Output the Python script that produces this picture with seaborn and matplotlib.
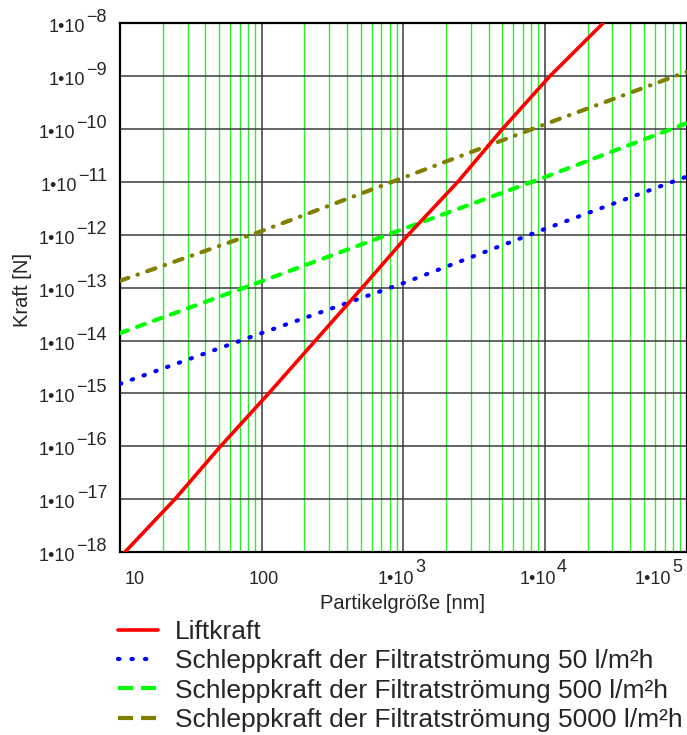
import numpy as np
import pandas as pd
import matplotlib
matplotlib.use("Agg")
import matplotlib.pyplot as plt
from matplotlib.lines import Line2D
from matplotlib.ticker import FixedLocator, LogLocator, NullLocator
from matplotlib.transforms import blended_transform_factory, offset_copy
import seaborn as sns

# Lift force (particle size in nm, force in N)
lift_size = [10**1.035, 10**1.388, 10**1.71, 10**2.05, 10**2.38, 10**2.71,
             10**3.035, 10**3.385, 10**3.70, 10**4.035, 10**4.41]
lift_force = [1e-18, 1e-17, 1e-16, 1e-15, 1e-14, 1e-13,
              1e-12, 1e-11, 1e-10, 1e-9, 1e-8]

# Drag force of the filtrate flow at three fluxes
drag_size = [10, 100, 1e3, 1e4, 1e5]
drag_50 = [10**-14.82, 10**-13.86, 10**-12.915, 10**-11.89, 10**-10.9]
drag_500 = [10**-13.86, 10**-12.88, 10**-11.89, 10**-10.91, 10**-9.89]
drag_5000 = [10**-12.87, 10**-11.93, 10**-10.92, 10**-9.91, 10**-8.92]

series_labels = ["Liftkraft",
                 "Schleppkraft der Filtratströmung 50 l/m²h",
                 "Schleppkraft der Filtratströmung 500 l/m²h",
                 "Schleppkraft der Filtratströmung 5000 l/m²h"]

x_major = [10, 100, 1e3, 1e4, 1e5]
x_plain_labels = {10: "10", 100: "100"}
x_power_labels = {1e3: "3", 1e4: "4", 1e5: "5"}
y_exponents = [-18, -17, -16, -15, -14, -13, -12, -11, -10, -9, -8]

sns.set_style("white")
plt.rcParams["font.family"] = ["Liberation Sans", "DejaVu Sans"]
plt.rcParams["lines.scale_dashes"] = False

W, H = 687, 735
fig = plt.figure(figsize=(W / 100, H / 100), dpi=100)
ax = fig.add_axes([120 / W, 183 / H, 566.5 / W, 528.7 / H])

lift_df = pd.DataFrame({"d": lift_size, "F": lift_force})
drag_df = pd.DataFrame({"d": drag_size, "F50": drag_50,
                        "F500": drag_500, "F5000": drag_5000})

red, blue, green, olive = "#ff0000", "#0000ff", "#00ff00", "#808000"

sns.lineplot(data=lift_df, x="d", y="F", ax=ax, color=red,
             linewidth=2.6, zorder=5)
for col, colr, dash in [("F50", blue, (1.0, 8.0)),
                        ("F500", green, (6.0, 7.0)),
                        ("F5000", olive, (6.3, 7.0, 0.4, 7.0))]:
    sns.lineplot(data=drag_df, x="d", y=col, ax=ax, color=colr,
                 linewidth=3.0, zorder=4)
    ln = ax.lines[-1]
    ln.set_dashes(dash)
    ln.set_dash_capstyle("round")

ax.set_xscale("log")
ax.set_yscale("log")
ax.set_xlim(10, 1e5)
ax.set_ylim(1e-18, 1e-8)

ax.xaxis.set_major_locator(FixedLocator(x_major))
ax.xaxis.set_minor_locator(LogLocator(base=10, subs=np.arange(2, 10), numticks=20))
ax.yaxis.set_major_locator(FixedLocator([10.0**e for e in y_exponents]))
ax.yaxis.set_minor_locator(NullLocator())
ax.tick_params(which="both", length=0, labelbottom=False, labelleft=False)

ax.grid(which="major", axis="both", color="#3a3a3a", linewidth=1.1, zorder=1)
ax.grid(which="minor", axis="x", color="#2cf02c", linewidth=1.0, zorder=1)
ax.set_axisbelow(True)

for side in ["left", "bottom", "top", "right"]:
    ax.spines[side].set_color("black")
    ax.spines[side].set_linewidth(1.6)
ax.set_xlabel("")
ax.set_ylabel("")

TICK_FS = 13

# y tick labels: "1•10" with a raised exponent of the same size
ytrans = blended_transform_factory(fig.transFigure, ax.transData)
for e in y_exponents:
    exp_t = ax.text(107 / W, 10.0**e, "\u2212%d" % (-e),
                    transform=offset_copy(ytrans, fig=fig, x=0, y=1, units="dots"),
                    ha="right", va="baseline", fontsize=TICK_FS, clip_on=False)
    ax.annotate("1•10", xy=(0, 0), xycoords=exp_t, xytext=(-1, -10),
                textcoords="offset pixels", ha="right", va="bottom",
                fontsize=TICK_FS, annotation_clip=False)

# x tick labels
xtrans = blended_transform_factory(ax.transData, fig.transFigure)
x_base_y = 1 - 583.5 / H
for v, s in x_plain_labels.items():
    if v == 10:
        ax.text(v, x_base_y, s, transform=offset_copy(xtrans, fig=fig, x=5, y=0, units="dots"),
                ha="left", va="baseline", fontsize=TICK_FS, clip_on=False)
    else:
        ax.text(v, x_base_y, s, transform=offset_copy(xtrans, fig=fig, x=2, y=0, units="dots"),
                ha="center", va="baseline", fontsize=TICK_FS, clip_on=False)
for v, s in x_power_labels.items():
    shift = -51.5 if v == 1e5 else -25.5
    base_t = ax.text(v, x_base_y, "1•10",
                     transform=offset_copy(xtrans, fig=fig, x=shift, y=0, units="dots"),
                     ha="left", va="baseline", fontsize=TICK_FS, clip_on=False)
    ax.annotate(s, xy=(1, 0), xycoords=base_t, xytext=(1, 12),
                textcoords="offset pixels", ha="left", va="bottom",
                fontsize=TICK_FS, annotation_clip=False)

fig.text(402 / W, 1 - 609 / H, "Partikelgröße [nm]", ha="center",
         va="baseline", fontsize=14.5)
fig.text(23 / W, 1 - 290 / H, "Kraft [N]", ha="center", va="center",
         rotation=90, fontsize=14.5)

handles = [
    Line2D([], [], color=red, linewidth=2.6),
    Line2D([], [], color=blue, linewidth=3.0, dashes=(1.0, 8.7),
           dash_capstyle="round"),
    Line2D([], [], color=green, linewidth=3.0, dashes=(10.8, 5.8)),
    Line2D([], [], color=olive, linewidth=3.0, dashes=(10.8, 5.8)),
]
fig.legend(handles, series_labels, loc="upper left",
           bbox_to_anchor=(118 / W, 1 - 620 / H), frameon=False,
           fontsize=19, handlelength=1.52, handletextpad=0.64,
           labelspacing=0.2, borderaxespad=0, borderpad=0)

fig.savefig("out.png", dpi=100)
